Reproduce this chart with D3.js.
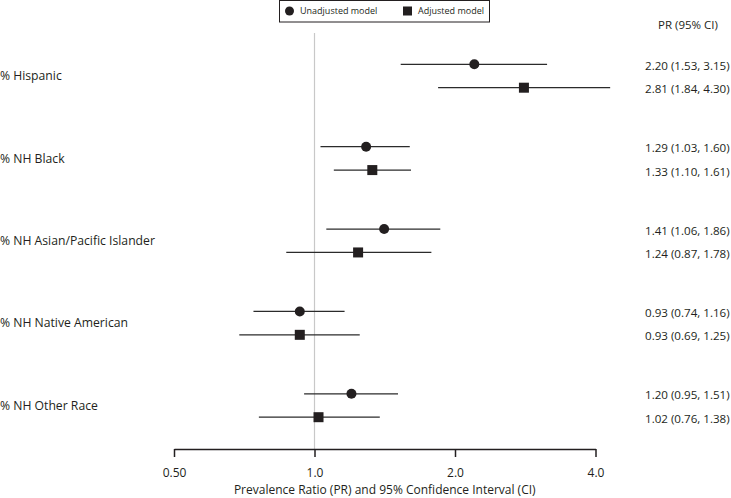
<!DOCTYPE html>
<html>
<head>
<meta charset="utf-8">
<script src="https://cdn.jsdelivr.net/npm/d3@7"></script>
<style>
  html, body { margin: 0; padding: 0; background: #fff; }
  svg text { font-family: "Open Sans", "Noto Sans", sans-serif; fill: #231f20; }
</style>
</head>
<body>
<svg id="chart" width="731" height="498"></svg>
<script>
const categories = ["% Hispanic", "% NH Black", "% NH Asian/Pacific Islander", "% NH Native American", "% NH Other Race"];
const unadjPR = [2.20, 1.29, 1.41, 0.93, 1.20];
const unadjLo = [1.53, 1.03, 1.06, 0.74, 0.95];
const unadjHi = [3.15, 1.60, 1.86, 1.16, 1.51];
const adjPR = [2.81, 1.33, 1.24, 0.93, 1.02];
const adjLo = [1.84, 1.10, 0.87, 0.69, 0.76];
const adjHi = [4.30, 1.61, 1.78, 1.25, 1.38];
const tickValues = [0.5, 1.0, 2.0, 4.0];
const tickLabels = ["0.50", "1.0", "2.0", "4.0"];
const seriesNames = ["Unadjusted model", "Adjusted model"];
const headerText = "PR (95% CI)";
const axisTitle = "Prevalence Ratio (PR) and 95% Confidence Interval (CI)";

const svg = d3.select("#chart");
const x = d3.scaleLog().base(2).domain([0.5, 4.0]).range([174, 595.5]);
const yGroup = d3.scaleLinear().domain([0, 4]).range([76, 405.5]);
const offset = 11.7;
const axisY = 449;
const ink = "#231f20";

const fmt = v => v.toFixed(2);
const rows = [];
categories.forEach((c, i) => {
  rows.push({cat: c, i, kind: 0, pr: unadjPR[i], lo: unadjLo[i], hi: unadjHi[i], y: yGroup(i) - offset});
  rows.push({cat: c, i, kind: 1, pr: adjPR[i], lo: adjLo[i], hi: adjHi[i], y: yGroup(i) + offset});
});

// reference line at 1.0
svg.append("line")
  .attr("x1", x(1)).attr("x2", x(1))
  .attr("y1", 33).attr("y2", axisY)
  .attr("stroke", "#c8c8c8").attr("stroke-width", 1.2);

// axis
const axis = d3.axisBottom(x).tickValues(tickValues).tickFormat((d, i) => tickLabels[i]).tickSize(8).tickSizeOuter(0);
const gAxis = svg.append("g").attr("transform", `translate(0,${axisY})`).call(axis);
gAxis.select(".domain").attr("stroke", ink).attr("stroke-width", 1.5);
gAxis.selectAll(".tick line").attr("stroke", ink).attr("stroke-width", 1.5);
gAxis.selectAll(".tick text").attr("dy", "1.45em").style("font-size", "12px").attr("fill", ink)
  .style("font-family", "'Open Sans', sans-serif");

svg.append("text")
  .attr("x", (x(0.5) + x(4)) / 2).attr("y", 494)
  .attr("text-anchor", "middle").style("font-size", "12px")
  .text(axisTitle);

// category labels
svg.selectAll("text.cat").data(categories).enter().append("text")
  .attr("class", "cat")
  .attr("x", 0).attr("y", (d, i) => yGroup(i)).attr("dy", "0.35em")
  .style("font-size", "12.2px")
  .text(d => d);

// CI lines
svg.selectAll("line.ci").data(rows).enter().append("line")
  .attr("class", "ci")
  .attr("x1", d => x(d.lo)).attr("x2", d => x(d.hi))
  .attr("y1", d => d.y).attr("y2", d => d.y)
  .attr("stroke", "#2b2b2b").attr("stroke-width", 1.3);

// markers
rows.forEach(d => {
  if (d.kind === 0) {
    svg.append("circle").attr("cx", x(d.pr)).attr("cy", d.y).attr("r", 5).attr("fill", ink);
  } else {
    svg.append("rect").attr("x", x(d.pr) - 5).attr("y", d.y - 5).attr("width", 10).attr("height", 10).attr("fill", ink);
  }
});

// right column
svg.append("text").attr("x", 688).attr("y", 25).attr("dy", "0.35em")
  .attr("text-anchor", "middle").style("font-size", "11.5px").text(headerText);
svg.selectAll("text.val").data(rows).enter().append("text")
  .attr("class", "val")
  .attr("x", 645).attr("y", d => d.y + 1.5).attr("dy", "0.35em")
  .style("font-size", "11.6px")
  .text(d => `${fmt(d.pr)} (${fmt(d.lo)}, ${fmt(d.hi)})`);

// legend
const lg = svg.append("g");
lg.append("rect").attr("x", 279.5).attr("y", 0.5).attr("width", 210).attr("height", 21.5)
  .attr("fill", "#fff").attr("stroke", ink).attr("stroke-width", 1);
lg.append("circle").attr("cx", 289.5).attr("cy", 11).attr("r", 4.5).attr("fill", ink);
lg.append("text").attr("x", 300).attr("y", 11).attr("dy", "0.35em").style("font-size", "9px").text(seriesNames[0]);
lg.append("rect").attr("x", 403).attr("y", 6.5).attr("width", 9).attr("height", 9).attr("fill", ink);
lg.append("text").attr("x", 418).attr("y", 11).attr("dy", "0.35em").style("font-size", "9px").text(seriesNames[1]);
</script>
</body>
</html>
